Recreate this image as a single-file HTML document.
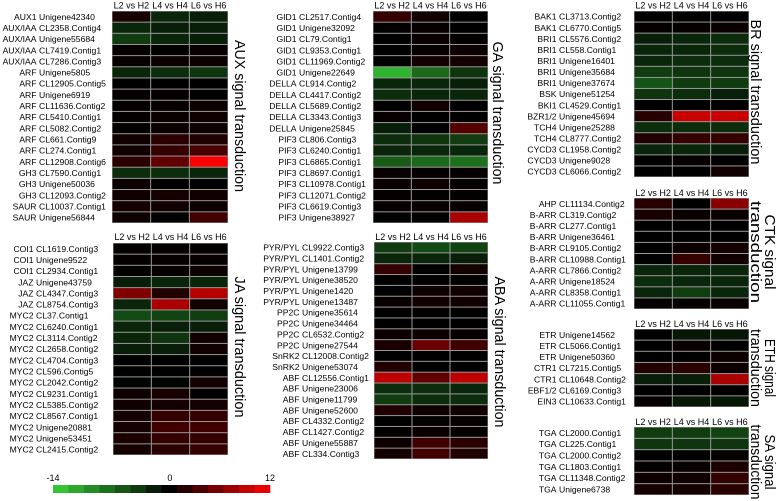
<!DOCTYPE html>
<html><head><meta charset="utf-8">
<style>
html,body{margin:0;padding:0;background:#fff;}
svg{display:block;font-family:"Liberation Sans",Arial,sans-serif;}
</style></head>
<body>
<svg id="fig" width="778" height="501" viewBox="0 0 778 501" xmlns="http://www.w3.org/2000/svg"></svg>
<script>
const columns = ["L2 vs H2","L4 vs H4","L6 vs H6"];
const colorbarTicks = [-14, 0, 12];

const auxGenes = [["AUX1","Unigene42340"],["AUX/IAA","CL2358.Contig4"],["AUX/IAA","Unigene55684"],["AUX/IAA","CL7419.Contig1"],["AUX/IAA","CL7286.Contig3"],["ARF","Unigene5805"],["ARF","CL12905.Contig5"],["ARF","Unigene6919"],["ARF","CL11636.Contig2"],["ARF","CL5410.Contig1"],["ARF","CL5082.Contig2"],["ARF","CL661.Contig9"],["ARF","CL274.Contig1"],["ARF","CL12908.Contig6"],["GH3","CL7590.Contig1"],["GH3","Unigene50036"],["GH3","CL12093.Contig2"],["SAUR","CL10037.Contig1"],["SAUR","Unigene56844"]];
const auxVals = [[1.2,-2.5,-2],[-2.5,-2,-2],[-4,-2.5,-2],[0.3,0.2,0.3],[0.3,0.6,0.6],[-2.5,-3,-3.5],[0,0,0],[0.3,0.2,0],[0.2,0.3,0.6],[0.2,0.5,0.7],[0.2,0.5,0.6],[0.8,2,1.5],[0.8,2.5,3.5],[2,4.5,12],[-3,-3,-2.5],[0.6,0,0],[0.8,1,0.8],[1,0.8,0.6],[0.6,0,3]];

const jaGenes = [["COI1","CL1619.Contig3"],["COI1","Unigene9522"],["COI1","CL2934.Contig1"],["JAZ","Unigene43759"],["JAZ","CL4347.Contig3"],["JAZ","CL8754.Contig3"],["MYC2","CL37.Contig1"],["MYC2","CL6240.Contig1"],["MYC2","CL3114.Contig2"],["MYC2","CL2658.Contig2"],["MYC2","CL4704.Contig3"],["MYC2","CL596.Contig5"],["MYC2","CL2042.Contig2"],["MYC2","CL9231.Contig1"],["MYC2","CL5385.Contig2"],["MYC2","CL8567.Contig1"],["MYC2","Unigene20881"],["MYC2","Unigene53451"],["MYC2","CL2415.Contig2"]];
const jaVals = [[0.2,0.2,0.2],[0.2,0.3,0.3],[0.2,0.3,0.6],[-2,-2.5,-2.5],[6,1.5,8.5],[-2.5,8,0.8],[-5,-4.5,-4],[-2.5,-2,-2],[-2.5,-3.5,0.8],[-2,-2,0.8],[0,0,0],[0,0,0],[-0.3,-0.3,1],[0.7,1.2,0],[0.8,1,1],[1,2.5,2.5],[1,3,3],[1.3,2.5,2.5],[1,2,2.5]];

const gaGenes = [["GID1","CL2517.Contig4"],["GID1","Unigene32092"],["GID1","CL79.Contig1"],["GID1","CL9353.Contig1"],["GID1","CL11969.Contig2"],["GID1","Unigene22649"],["DELLA","CL914.Contig2"],["DELLA","CL4417.Contig2"],["DELLA","CL5689.Contig2"],["DELLA","CL3343.Contig3"],["DELLA","Unigene25845"],["PIF3","CL806.Contig3"],["PIF3","CL6240.Contig1"],["PIF3","CL6865.Contig1"],["PIF3","CL8697.Contig1"],["PIF3","CL10978.Contig1"],["PIF3","CL12071.Contig2"],["PIF3","CL6619.Contig3"],["PIF3","Unigene38927"]];
const gaVals = [[2.5,0.8,0],[0.1,0.3,0],[0,0.4,0.2],[0,0.3,0.6],[0,1,1],[-12,-7,-3.5],[-2.5,-2.5,-2],[-3,-2.5,-2.5],[0,0.8,0],[0.3,0,0],[-2,0,4],[-3,-3.5,-4],[-2.5,-2.5,-2.5],[-6,-7,-7.5],[0.4,0.3,0.3],[0.5,0.7,0.2],[0.2,0.2,0.2],[0.3,0.4,0.4],[0,0,8]];

const abaGenes = [["PYR/PYL","CL9922.Contig3"],["PYR/PYL","CL1401.Contig2"],["PYR/PYL","Unigene13799"],["PYR/PYL","Unigene38520"],["PYR/PYL","Unigene1420"],["PYR/PYL","Unigene13487"],["PP2C","Unigene35614"],["PP2C","Unigene34464"],["PP2C","CL6532.Contig2"],["PP2C","Unigene27544"],["SnRK2","CL12008.Contig2"],["SnRK2","Unigene53074"],["ABF","CL12556.Contig1"],["ABF","Unigene23006"],["ABF","Unigene11799"],["ABF","Unigene52600"],["ABF","CL4332.Contig2"],["ABF","CL1427.Contig2"],["ABF","Unigene55887"],["ABF","CL334.Contig3"]];
const abaVals = [[-4,-5,-4.5],[-2.5,-2.5,-2],[2.5,0,1],[0,0,0],[0,0.6,0.8],[0.4,0.8,0.8],[0,0,0],[0,0,0],[0.6,0.6,0.3],[1.2,5,3],[0,0,0],[1.5,0,0],[9,4.5,9],[-3,-3,-2.5],[-4,-3,-3],[1.5,0.8,0.8],[0,0.3,0.3],[0.2,0.5,0.3],[0.6,3,2],[1,3,1.5]];

const brGenes = [["BAK1","CL3713.Contig2"],["BAK1","CL6770.Contig5"],["BRI1","CL5576.Contig2"],["BRI1","CL558.Contig1"],["BRI1","Unigene16401"],["BRI1","Unigene35684"],["BRI1","Unigene37674"],["BSK","Unigene51254"],["BKI1","CL4529.Contig1"],["BZR1/2","Unigene45694"],["TCH4","Unigene25288"],["TCH4","CL8777.Contig2"],["CYCD3","CL1958.Contig2"],["CYCD3","Unigene9028"],["CYCD3","CL6066.Contig2"]];
const brVals = [[0,0,0],[0.2,0.3,0.5],[-2,-2.5,-3],[-2.5,-2.5,-3],[-2.5,-3,-3],[-4,-3.5,-3.5],[-5.5,-4,-4],[-3.5,-3,-2],[0,0,0],[1.8,9.5,9.5],[-3,-3,-3],[1.5,2.5,2.5],[-2.5,-2.5,-2],[0,0.3,0],[0,0,0.8]];

const ctkGenes = [["AHP","CL11134.Contig2"],["B-ARR","CL319.Contig2"],["B-ARR","CL277.Contig1"],["B-ARR","Unigene36461"],["B-ARR","CL9105.Contig2"],["B-ARR","CL10988.Contig1"],["A-ARR","CL7866.Contig2"],["A-ARR","Unigene18524"],["A-ARR","CL8358.Contig1"],["A-ARR","CL11055.Contig1"]];
const ctkVals = [[1.8,0,6.5],[1.2,0.5,0.4],[0,0,0],[0,0,0],[0,0.6,1],[0,2.5,0.8],[-2.5,-2.5,-2.5],[-3,-2.5,-2.5],[-2.5,-4,-2.5],[0.2,0.3,0.5]];

const ethGenes = [["ETR","Unigene14562"],["ETR","CL5066.Contig1"],["ETR","Unigene50360"],["CTR1","CL7215.Contig5"],["CTR1","CL10648.Contig2"],["EBF1/2","CL6169.Contig3"],["EIN3","CL10633.Contig1"]];
const ethVals = [[0,-1.5,-1.5],[0,0.5,0],[0,0,0.6],[1.5,2,0.6],[-2,-2,8],[0,0,0],[0.3,-1.5,-1.5]];

const saGenes = [["TGA","CL2000.Contig1"],["TGA","CL225.Contig1"],["TGA","CL2000.Contig2"],["TGA","CL1803.Contig1"],["TGA","CL11348.Contig2"],["TGA","Unigene6738"]];
const saVals = [[-4,-4,-4.5],[-3.5,-3.5,-3.5],[0,0,0.2],[0.2,0.4,1.3],[0.7,0.8,2.5],[1,1,2]];

// layout (geometry only)
const panels = [
 {id:"aux",genes:auxGenes,vals:auxVals,x0:112,x1:228,y0:11,y1:223,hy:8.5,nx:39,title:["AUX signal transduction"],tx:[240],tc:116,tl:[152]},
 {id:"ja",genes:jaGenes,vals:jaVals,x0:113,x1:228,y0:243,y1:455,hy:240,nx:36,title:["JA signal transduction"],tx:[240],tc:347,tl:[141]},
 {id:"ga",genes:gaGenes,vals:gaVals,x0:373,x1:488,y0:11,y1:223,hy:8.5,nx:299,title:["GA signal transduction"],tx:[498],tc:113,tl:[143]},
 {id:"aba",genes:abaGenes,vals:abaVals,x0:374,x1:488,y0:242,y1:459,hy:240,nx:302,title:["ABA signal transduction"],tx:[500],tc:352,tl:[151]},
 {id:"br",genes:brGenes,vals:brVals,x0:634,x1:749,y0:11,y1:177,hy:8.5,nx:559,title:["BR signal transduction"],tx:[756],tc:92,tl:[145]},
 {id:"ctk",genes:ctkGenes,vals:ctkVals,x0:634,x1:749,y0:198,y1:309,hy:196,nx:559,title:["CTK signal","transduction"],tx:[770,756],tc:252,tl:[75,102]},
 {id:"eth",genes:ethGenes,vals:ethVals,x0:634,x1:749,y0:329,y1:407,hy:327,nx:559,title:["ETH signal","transduction"],tx:[770,756],tc:368,tl:[58,78]},
 {id:"sa",genes:saGenes,vals:saVals,x0:634,x1:749,y0:427,y1:495,hy:425,nx:559,title:["SA signal","transduction"],tx:[770,756],tc:462,tl:[55,75]}
];

const NS="http://www.w3.org/2000/svg";
const svg=document.getElementById('fig');
function mk(tag,attrs,parent){const e=document.createElementNS(NS,tag);for(const k in attrs)e.setAttribute(k,attrs[k]);(parent||svg).appendChild(e);return e;}
function color(v){
  if(v>=0){const t=Math.min(v/12,1);return `rgb(${Math.round(255*t)},0,0)`;}
  const t=Math.min(-v/14,1);return `rgb(${Math.round(55*t)},${Math.round(210*t)},${Math.round(55*t)})`;
}
function xScale(p,c){return p.x0+(p.x1-p.x0)*c/columns.length;}
function yScale(p,r){return p.y0+(p.y1-p.y0)*r/p.genes.length;}

panels.forEach(p=>{
  const g=mk('g',{});
  
  
  mk('rect',{x:p.x0,y:p.y0,width:p.x1-p.x0,height:p.y1-p.y0,fill:'#999'},g);
  columns.forEach((c,ci)=>{
    const t=mk('text',{x:(xScale(p,ci)+xScale(p,ci+1))/2,y:p.hy,'font-size':'9','text-anchor':'middle',fill:'#000'},g);
    
    
    t.textContent=c;
  });
  p.genes.forEach((gn,ri)=>{
    const ya=yScale(p,ri),yb=yScale(p,ri+1),ym=(ya+yb)/2+3.2;
    const t1=mk('text',{x:p.nx-2.5,y:ym,'font-size':'8.6','text-anchor':'end',fill:'#000'},g);
    
    
    t1.textContent=gn[0];
    const t2=mk('text',{x:p.nx,y:ym,'font-size':'8.6',fill:'#000'},g);
    
    
    t2.textContent=gn[1];
    p.vals[ri].forEach((v,ci)=>{
      const xa=xScale(p,ci),xb=xScale(p,ci+1);
      const r=mk('rect',{x:xa+0.5,y:ya+0.5,width:xb-xa-1,height:yb-ya-1,fill:color(v)},g);
      
      
    });
  });
  p.title.forEach((tt,i)=>{
    const x=p.tx[i];
    const t=mk('text',{x:0,y:0,transform:`translate(${x-5},${p.tc}) rotate(90)`,'font-size':'15','text-anchor':'middle',fill:'#000',textLength:p.tl[i],lengthAdjust:'spacingAndGlyphs'},g);
    
    
    t.textContent=tt;
  });
});

// colorbar
const cb=mk('g',{});


const cbX0=53,cbX1=270,cbY=485,cbH=8,steps=14;
const vmin=colorbarTicks[0],vmax=colorbarTicks[colorbarTicks.length-1];
function cbScale(v){return cbX0+(cbX1-cbX0)*(v-vmin)/(vmax-vmin);}
for(let i=0;i<steps;i++){
  const v=vmin+(vmax-vmin)*(i+0.5)/steps;
  const r=mk('rect',{x:cbX0+(cbX1-cbX0)*i/steps,y:cbY,width:(cbX1-cbX0)/steps+0.3,height:cbH,fill:color(v)},cb);
  
  
}
colorbarTicks.forEach(v=>{
  const t=mk('text',{x:cbScale(v),y:481,'font-size':'9','text-anchor':'middle',fill:'#000'},cb);
  
  
  t.textContent=String(v);
});
</script>
</body></html>
